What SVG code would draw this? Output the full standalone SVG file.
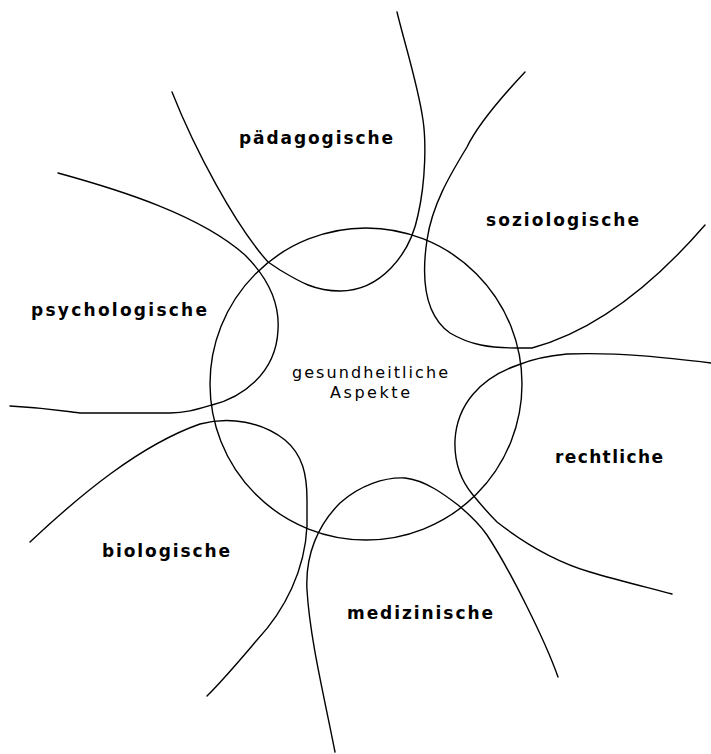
<svg xmlns="http://www.w3.org/2000/svg" width="711" height="754" viewBox="0 0 711 754">
<style>
.bg{fill:#ffffff}
.curve{fill:none;stroke:#000;stroke-width:1.4;stroke-linecap:round;stroke-linejoin:round}
.ring{fill:none;stroke:#000;stroke-width:1.4}
.lbl{font-family:"DejaVu Sans","Liberation Sans",Arial,sans-serif;font-weight:bold;font-size:17px;fill:#000}
.ctr{font-family:"DejaVu Sans","Liberation Sans",Arial,sans-serif;font-size:16px;fill:#000}
</style>
<rect class="bg" x="0" y="0" width="711" height="754"/>
<g id="connectors">
<path id="curve-paedagogisch" class="curve" d="M172,92 C195,150 235,225 268,262 L280,270 C300,282 315,291 340,291 C380,291 410,255 418,215 C426,180 426,140 423,120 C418,85 405,45 397,12"/>
<path id="curve-psychologisch" class="curve" d="M58,173 C120,190 200,215 245,255 C265,275 280,300 278,330 C276,375 240,398 212,405 C195,410 185,413 170,413 L80,413 C70,412 50,408 10,406"/>
<path id="curve-soziologisch" class="curve" d="M525,72 C510,88 480,120 467,147 C450,175 432,205 427,240 C421,280 425,315 450,333 C470,345 490,348 517,348 L532,348 C580,335 640,300 705,225"/>
<path id="curve-rechtlich" class="curve" d="M711,363 C670,358 620,352 567,354 C545,356 530,360 518,365 C480,378 457,405 455,440 C454,465 462,482 473,495 C482,506 490,515 497,522 C520,540 550,560 590,572 C620,581 650,588 672,594"/>
<path id="curve-medizinisch" class="curve" d="M335,752 C325,700 310,640 307,590 C305,555 318,525 340,503 C360,485 385,477 405,478 C425,480 445,495 458,505 C470,515 480,525 487,535 C510,570 545,640 558,677"/>
<path id="curve-biologisch" class="curve" d="M30,542 C80,495 140,445 200,424 C230,416 262,422 285,440 C303,455 307,475 307,500 L307,526 C305,570 285,610 257,640 C240,660 225,678 207,696"/>
</g>
<g id="node-center">
<circle class="ring" cx="366" cy="384" r="156"/>
<text class="ctr" x="292" y="378" textLength="156" lengthAdjust="spacing">gesundheitliche</text>
<text class="ctr" x="330" y="398" textLength="80" lengthAdjust="spacing">Aspekte</text>
</g>
<g id="node-paedagogische"><text class="lbl" x="239" y="144" textLength="154" lengthAdjust="spacing">pädagogische</text></g>
<g id="node-soziologische"><text class="lbl" x="486" y="226" textLength="153" lengthAdjust="spacing">soziologische</text></g>
<g id="node-psychologische"><text class="lbl" x="31" y="316" textLength="176" lengthAdjust="spacing">psychologische</text></g>
<g id="node-rechtliche"><text class="lbl" x="555" y="463" textLength="108" lengthAdjust="spacing">rechtliche</text></g>
<g id="node-biologische"><text class="lbl" x="102" y="557" textLength="128" lengthAdjust="spacing">biologische</text></g>
<g id="node-medizinische"><text class="lbl" x="347" y="619" textLength="146" lengthAdjust="spacing">medizinische</text></g>
</svg>
